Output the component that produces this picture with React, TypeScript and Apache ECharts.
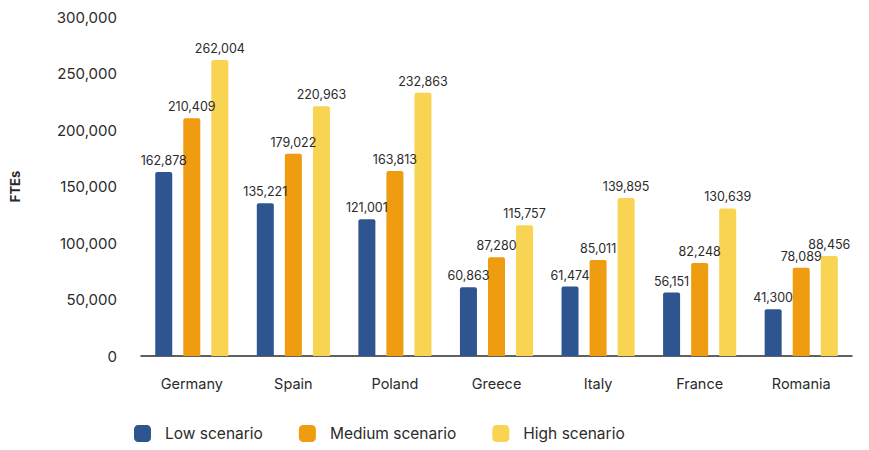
import React, { useEffect, useRef } from "react";
import * as echarts from "echarts";

const categories = ["Germany", "Spain", "Poland", "Greece", "Italy", "France", "Romania"];
const lowScenario = [162878, 135221, 121001, 60863, 61474, 56151, 41300];
const mediumScenario = [210409, 179022, 163813, 87280, 85011, 82248, 78089];
const highScenario = [262004, 220963, 232863, 115757, 139895, 130639, 88456];
const seriesNames = ["Low scenario", "Medium scenario", "High scenario"];
const colors = ["#2f5590", "#f09c10", "#f9d352"];

const fmt = (v: number) => v.toLocaleString("en-US");
const FONT = "Inter, 'Open Sans', sans-serif";
const TXT = "#2b2b2b";

export default function App() {
  const ref = useRef<HTMLDivElement>(null);
  useEffect(() => {
    document.body.style.margin = "0";
    const chart = echarts.init(ref.current!, null, { renderer: "svg" });
    const data = [lowScenario, mediumScenario, highScenario];
    chart.setOption({
      animation: false,
      textStyle: { fontFamily: FONT },
      grid: { left: 140, right: 17, top: 17, bottom: 94 },
      legend: {
        left: 129,
        top: 420,
        itemWidth: 17,
        itemHeight: 17,
        itemGap: 36,
        icon: "roundRect",
        textStyle: { fontFamily: FONT, fontSize: 15.5, color: TXT, padding: [0, 0, 0, 9] },
        data: seriesNames,
      },
      xAxis: {
        type: "category",
        data: categories,
        axisLine: { lineStyle: { color: "#2b2b2b", width: 1.5 } },
        axisTick: { show: false },
        axisLabel: { fontFamily: FONT, fontSize: 14.5, color: TXT, margin: 20 },
      },
      yAxis: {
        type: "value",
        min: 0,
        max: 300000,
        interval: 50000,
        name: "FTEs",
        nameLocation: "middle",
        nameGap: 120,
        nameRotate: 90,
        nameTextStyle: { fontFamily: FONT, fontSize: 13, fontWeight: "bold", color: TXT },
        splitLine: { show: false },
        axisLine: { show: false },
        axisTick: { show: false },
        axisLabel: {
          fontFamily: FONT,
          fontSize: 15,
          color: TXT,
          margin: 24,
          formatter: (v: number) => fmt(v),
        },
      },
      series: seriesNames.map((name, i) => ({
        name,
        type: "bar",
        data: data[i],
        barWidth: 17,
        barGap: "65%",
        itemStyle: { color: colors[i], borderRadius: [2, 2, 0, 0] },
        label: {
          show: true,
          position: "top",
          distance: 5,
          fontFamily: FONT,
          fontSize: 12.5,
          color: TXT,
          formatter: (p: any) => fmt(p.value),
        },
      })),
    });
    return () => chart.dispose();
  }, []);
  return <div ref={ref} style={{ width: 869, height: 450 }} />;
}
